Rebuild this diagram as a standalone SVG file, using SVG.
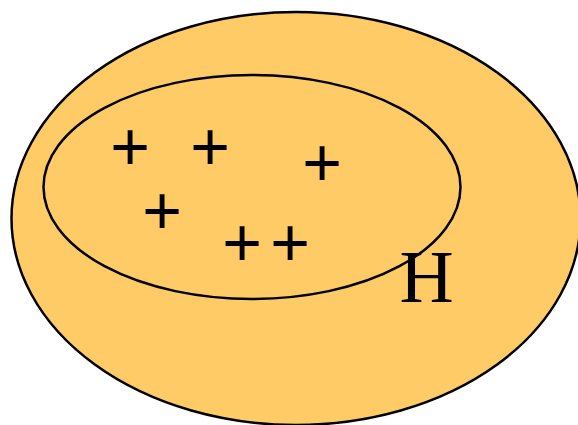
<svg xmlns="http://www.w3.org/2000/svg" width="578" height="425" viewBox="0 0 578 425">
<style>
.set{fill:#FECB66;stroke:#000;stroke-width:2.5}
.inner{fill:none;stroke:#000;stroke-width:2.5}
.p{font-family:"Liberation Sans",Arial,sans-serif;font-size:68px;text-anchor:middle;fill:#000}
.h{font-family:"Liberation Serif","Times New Roman",serif;font-size:75px;text-anchor:middle;fill:#000}
</style>
<g id="outer"><ellipse class="set" cx="296" cy="218.5" rx="284.5" ry="206.5"/></g>
<g id="inner"><ellipse class="inner" cx="252" cy="187" rx="208.5" ry="112"/></g>
<g id="points">
<text class="p" x="130" y="170">+</text>
<text class="p" x="210" y="170">+</text>
<text class="p" x="322" y="186">+</text>
<text class="p" x="162" y="234">+</text>
<text class="p" x="242" y="266">+</text>
<text class="p" x="290" y="266">+</text>
</g>
<g id="label"><text class="h" x="426.5" y="302">H</text></g>
</svg>
